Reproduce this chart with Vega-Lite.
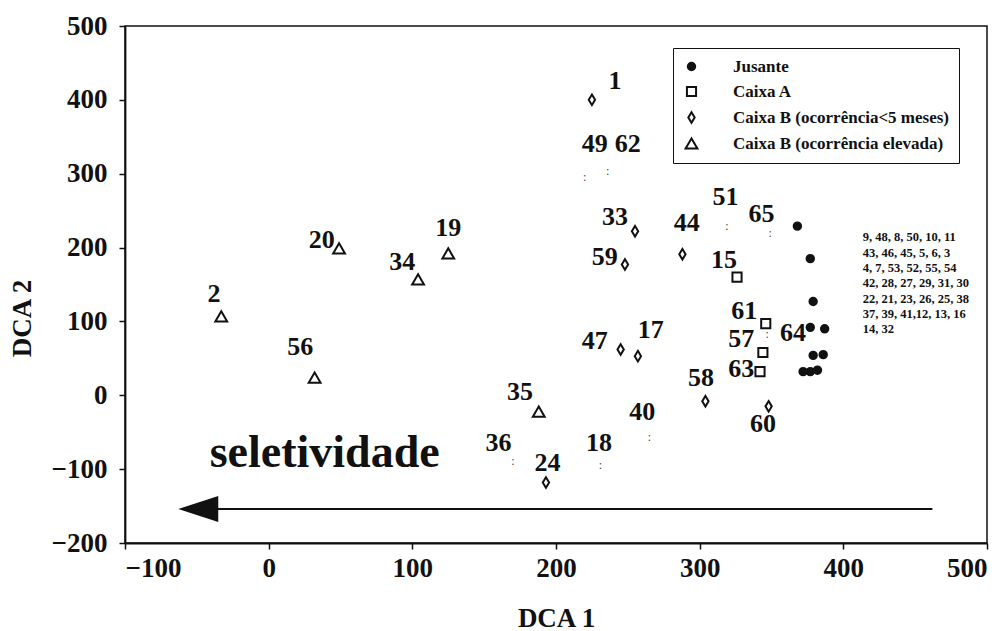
{
  "$schema": "https://vega.github.io/schema/vega-lite/v6.json",
  "width": 862,
  "height": 517,
  "autosize": {"type": "none"},
  "padding": {"left": 125, "top": 26, "right": 21, "bottom": 88},
  "background": "white",
  "config": {
    "font": "Liberation Serif",
    "view": {"stroke": "#111", "strokeWidth": 1.5},
    "axis": {
      "grid": false,
      "domainColor": "#111",
      "domainWidth": 1.8,
      "tickColor": "#111",
      "tickWidth": 1.5,
      "tickSize": 6,
      "labelFont": "Liberation Serif",
      "labelFontWeight": "bold",
      "labelFontSize": 27,
      "labelColor": "#111",
      "titleFont": "Liberation Serif",
      "titleFontWeight": "bold",
      "titleFontSize": 27,
      "titleColor": "#111"
    },
    "legend": {
      "orient": "none",
      "legendX": 548,
      "legendY": 22,
      "strokeColor": "#111",
      "padding": 10,
      "labelFont": "Liberation Serif",
      "labelFontWeight": "bold",
      "labelFontSize": 17,
      "labelColor": "#111",
      "labelLimit": 400,
      "labelOffset": 33,
      "rowPadding": 7,
      "symbolStrokeWidth": 2,
      "symbolOpacity": 1
    }
  },
  "datasets": {
    "pts": [
      {"grupo": "Jusante", "x": 368, "y": 229},
      {"grupo": "Jusante", "x": 377, "y": 185},
      {"grupo": "Jusante", "x": 379, "y": 127},
      {"grupo": "Jusante", "x": 377, "y": 92},
      {"grupo": "Jusante", "x": 387, "y": 90},
      {"grupo": "Jusante", "x": 379, "y": 54},
      {"grupo": "Jusante", "x": 386, "y": 55},
      {"grupo": "Jusante", "x": 372, "y": 32},
      {"grupo": "Jusante", "x": 377, "y": 32},
      {"grupo": "Jusante", "x": 382, "y": 34},
      {"grupo": "Caixa A", "x": 326, "y": 160},
      {"grupo": "Caixa A", "x": 346, "y": 97},
      {"grupo": "Caixa A", "x": 344, "y": 58},
      {"grupo": "Caixa A", "x": 342, "y": 32},
      {"grupo": "Caixa B (ocorrência<5 meses)", "x": 225, "y": 400},
      {"grupo": "Caixa B (ocorrência<5 meses)", "x": 255, "y": 222},
      {"grupo": "Caixa B (ocorrência<5 meses)", "x": 288, "y": 191},
      {"grupo": "Caixa B (ocorrência<5 meses)", "x": 248, "y": 177},
      {"grupo": "Caixa B (ocorrência<5 meses)", "x": 245, "y": 62},
      {"grupo": "Caixa B (ocorrência<5 meses)", "x": 257, "y": 53},
      {"grupo": "Caixa B (ocorrência<5 meses)", "x": 304, "y": -8},
      {"grupo": "Caixa B (ocorrência<5 meses)", "x": 348, "y": -15},
      {"grupo": "Caixa B (ocorrência<5 meses)", "x": 193, "y": -118},
      {"grupo": "Caixa B (ocorrência elevada)", "x": -33, "y": 107},
      {"grupo": "Caixa B (ocorrência elevada)", "x": 32, "y": 24},
      {"grupo": "Caixa B (ocorrência elevada)", "x": 49, "y": 199},
      {"grupo": "Caixa B (ocorrência elevada)", "x": 104, "y": 157},
      {"grupo": "Caixa B (ocorrência elevada)", "x": 125, "y": 192},
      {"grupo": "Caixa B (ocorrência elevada)", "x": 188, "y": -22}
    ],
    "dots": [
      {"id": "49", "x": 220, "y": 296},
      {"id": "62", "x": 236, "y": 303},
      {"id": "51", "x": 319, "y": 229},
      {"id": "65", "x": 349, "y": 220},
      {"id": "36", "x": 170, "y": -89},
      {"id": "18", "x": 231, "y": -94},
      {"id": "40", "x": 265, "y": -57},
      {"id": "64", "x": 347, "y": 83}
    ],
    "labels": [
      {"id": "1", "x": 241, "y": 425},
      {"id": "49", "x": 227, "y": 340},
      {"id": "62", "x": 250, "y": 340},
      {"id": "33", "x": 241, "y": 242},
      {"id": "44", "x": 291, "y": 233},
      {"id": "59", "x": 234, "y": 187},
      {"id": "51", "x": 318, "y": 268},
      {"id": "65", "x": 343, "y": 246},
      {"id": "15", "x": 317, "y": 183},
      {"id": "20", "x": 37, "y": 210},
      {"id": "34", "x": 93, "y": 181},
      {"id": "19", "x": 125, "y": 226},
      {"id": "2", "x": -38, "y": 137},
      {"id": "56", "x": 22, "y": 66},
      {"id": "47", "x": 227, "y": 74},
      {"id": "17", "x": 266, "y": 88},
      {"id": "35", "x": 175, "y": 4},
      {"id": "40", "x": 260, "y": -22},
      {"id": "58", "x": 301, "y": 23},
      {"id": "60", "x": 344, "y": -39},
      {"id": "61", "x": 331, "y": 114},
      {"id": "57", "x": 329, "y": 76},
      {"id": "63", "x": 329, "y": 35},
      {"id": "64", "x": 365, "y": 85},
      {"id": "36", "x": 160, "y": -65},
      {"id": "18", "x": 230, "y": -64},
      {"id": "24", "x": 194, "y": -92}
    ]
  },
  "encoding": {
    "x": {
      "field": "x", "type": "quantitative",
      "scale": {"domain": [-100, 500], "nice": false, "zero": false},
      "axis": {"values": [-100, 0, 100, 200, 300, 400, 500], "title": "DCA 1", "labelPadding": 6, "titleBaseline": "middle", "titleY": 75}
    },
    "y": {
      "field": "y", "type": "quantitative",
      "scale": {"domain": [-200, 500], "nice": false, "zero": false},
      "axis": {"values": [-200, -100, 0, 100, 200, 300, 400, 500], "title": "DCA 2", "labelPadding": 12, "titleAngle": -90, "titleBaseline": "middle", "titleAlign": "center", "titleX": -103, "titleY": 292}
    }
  },
  "layer": [
    {
      "data": {"values": [{"x": -38, "x2": 462, "y": -154}]},
      "mark": {"type": "rule", "color": "#111", "strokeWidth": 2},
      "encoding": {"x2": {"field": "x2"}}
    },
    {
      "data": {"values": [{"x": -49, "y": -154}]},
      "mark": {"type": "point", "shape": "M-1,0L1,-0.65L1,0.65Z", "size": 1600, "filled": true, "color": "#111", "opacity": 1}
    },
    {
      "data": {"values": [{"x": 39, "y": -97, "t": "seletividade"}]},
      "mark": {"type": "text", "font": "Liberation Serif", "fontWeight": "bold", "fontSize": 46, "baseline": "alphabetic", "align": "center", "color": "#111"},
      "encoding": {"text": {"field": "t"}}
    },
    {
      "data": {"values": [{"x": 413.5, "y": 222, "t": "9, 48, 8, 50, 10, 11\n43, 46, 45, 5, 6, 3\n4, 7, 53, 52, 55, 54\n42, 28, 27, 29, 31, 30\n22, 21, 23, 26, 25, 38\n37, 39, 41,12, 13, 16\n14, 32"}]},
      "mark": {"type": "text", "font": "Liberation Serif", "fontWeight": "bold", "fontSize": 12.5, "lineHeight": 15.3, "lineBreak": "\n", "baseline": "top", "align": "left", "color": "#111"},
      "encoding": {"text": {"field": "t"}}
    },
    {
      "data": {"name": "dots"},
      "mark": {"type": "text", "text": ":", "font": "Liberation Serif", "fontSize": 12, "baseline": "middle", "align": "center", "color": "#444"}
    },
    {
      "data": {"name": "pts"},
      "mark": {"type": "point", "filled": true, "strokeWidth": 2, "opacity": 1},
      "encoding": {
        "shape": {
          "field": "grupo", "type": "nominal", "title": null,
          "scale": {
            "domain": ["Jusante", "Caixa A", "Caixa B (ocorrência<5 meses)", "Caixa B (ocorrência elevada)"],
            "range": ["circle", "square", "M0,-1L0.6,0L0,1L-0.6,0Z", "triangle-up"]
          },
          "legend": {"title": null, "orient": "none", "legendX": 548, "legendY": 22}
        },
        "fill": {
          "field": "grupo", "type": "nominal", "title": null,
          "scale": {
            "domain": ["Jusante", "Caixa A", "Caixa B (ocorrência<5 meses)", "Caixa B (ocorrência elevada)"],
            "range": ["#111", "white", "white", "white"]
          }
        },
        "stroke": {
          "field": "grupo", "type": "nominal", "title": null,
          "scale": {
            "domain": ["Jusante", "Caixa A", "Caixa B (ocorrência<5 meses)", "Caixa B (ocorrência elevada)"],
            "range": ["#111", "#111", "#111", "#111"]
          }
        },
        "size": {
          "field": "grupo", "type": "nominal", "title": null,
          "scale": {
            "domain": ["Jusante", "Caixa A", "Caixa B (ocorrência<5 meses)", "Caixa B (ocorrência elevada)"],
            "range": [55, 140, 100, 55]
          }
        }
      }
    },
    {
      "data": {"name": "labels"},
      "mark": {"type": "text", "font": "Liberation Serif", "fontWeight": "bold", "fontSize": 26, "baseline": "middle", "align": "center", "color": "#111"},
      "encoding": {"text": {"field": "id"}}
    }
  ]
}
